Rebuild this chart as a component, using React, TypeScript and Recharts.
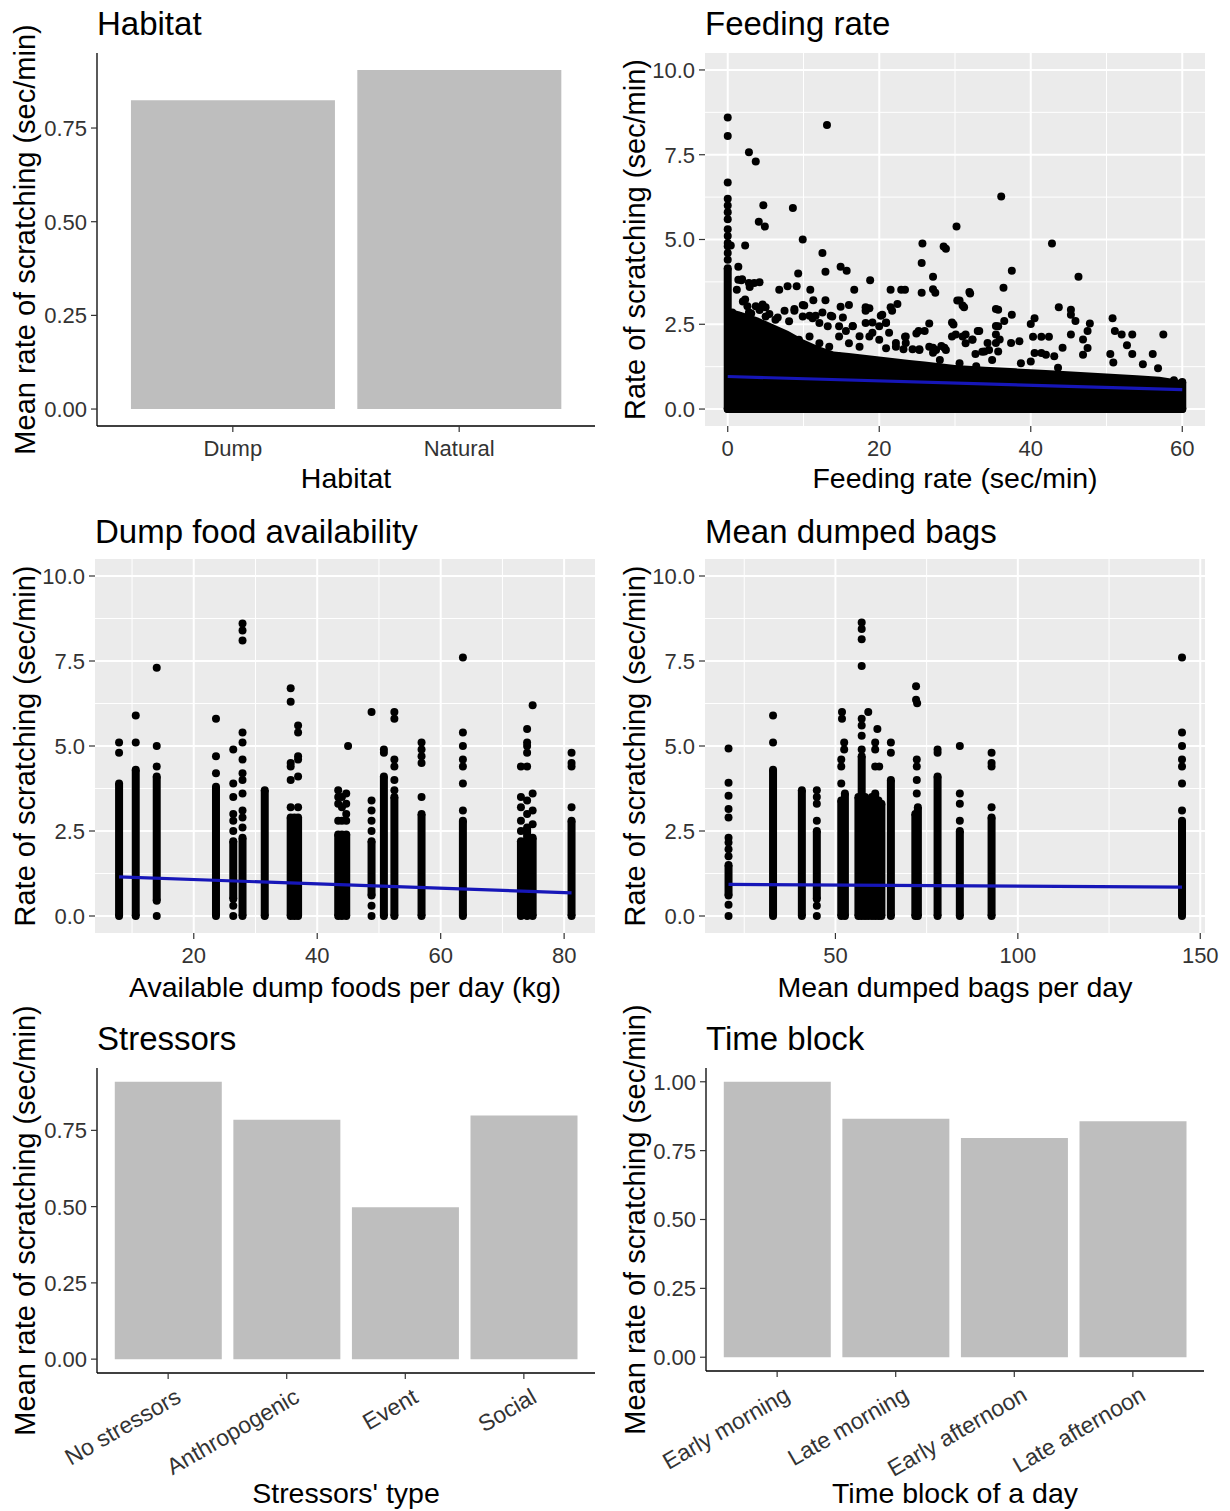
import React from 'react'
import { Area, Bar, BarChart, CartesianGrid, ComposedChart, Scatter, XAxis, YAxis } from 'recharts'

const FONT = '"Liberation Sans", Arial, Helvetica, sans-serif'

// ---- bar panels ----
const habitatCats = ['Dump', 'Natural']
const habitatMeans = [0.824, 0.905]

const stressorCats = ['No stressors', 'Anthropogenic', 'Event', 'Social']
const stressorMeans = [0.909, 0.785, 0.498, 0.799]

const timeCats = ['Early morning', 'Late morning', 'Early afternoon', 'Late afternoon']
const timeMeans = [1.0, 0.866, 0.796, 0.857]

const meanTicks = [0, 0.25, 0.5, 0.75]
const timeTicks = [0, 0.25, 0.5, 0.75, 1]

// ---- scatter panels ----
const rateTicks = [0, 2.5, 5, 7.5, 10]
const rateMinor = [1.25, 3.75, 6.25, 8.75]

const feedTicks = [0, 20, 40, 60]
const feedMinor = [10, 30, 50]
const foodTicks = [20, 40, 60, 80]
const foodMinor = [10, 30, 50, 70]
const bagTicks = [50, 100, 150]
const bagMinor = [25, 75, 125]

// upper edge of the solid mass of points, feeding rate vs scratching
const feedingEdge: [number, number][] = [
  [0, 4.15], [0.4, 2.95], [2, 2.85], [4, 2.7], [6, 2.5], [8, 2.3], [10, 2.05], [12, 1.85],
  [14, 1.7], [16, 1.65], [18, 1.6], [20, 1.55], [22, 1.5], [24, 1.45], [26, 1.4], [28, 1.35],
  [30, 1.3], [34, 1.25], [38, 1.2], [42, 1.15], [46, 1.1], [50, 1.05], [54, 1.0], [57, 0.95], [60, 0.85],
]
const feedingFloor: [number, number][] = [[0, 0], [60, 0]]
// [x, low, high] solid runs of stacked points
const feedingRuns: [number, number, number][] = [[0, 0, 4.15], [60, 0, 0.8]]
const feedingPoints: [number, number][] = [
  [0, 8.6], [0, 8.05], [13.1, 8.38], [2.8, 7.57], [3.7, 7.3], [0, 6.68], [4.7, 6.01], [4.1, 5.52],
  [4.9, 5.38], [8.6, 5.93], [9.9, 5.0], [2.3, 4.82], [0.4, 4.82], [12.5, 4.6], [12.9, 4.05],
  [14.9, 4.2], [15.7, 4.08], [9.3, 4.0], [18.8, 3.8], [25.7, 4.88], [25.6, 4.31], [27.1, 3.9],
  [28.5, 4.79], [28.8, 4.73], [27.1, 3.53], [27.4, 3.43], [25.6, 3.43], [26.6, 2.52], [25.2, 2.3],
  [26.0, 2.3], [1.4, 3.81], [1.8, 3.8], [2.8, 3.72], [3.5, 3.72], [4.2, 3.74], [1.2, 3.52],
  [6.8, 3.52], [7.9, 3.62], [9.1, 3.62], [10.9, 3.52], [16.7, 3.52], [21.5, 3.52], [22.9, 3.52],
  [23.4, 3.52], [22.4, 3.1], [21.7, 2.9], [20.4, 2.78], [18.7, 2.97], [18.2, 2.9], [16.0, 3.07],
  [14.9, 3.02], [12.9, 3.21], [11.3, 3.21], [9.9, 3.07], [8.8, 2.9], [7.5, 2.9], [2.3, 3.23],
  [5.0, 3.0], [4.2, 2.92], [23.4, 2.13], [23.2, 1.76], [27.1, 1.81], [28.2, 1.86],
  [0, 4.4], [0, 4.6], [0, 4.8], [0, 4.9], [0, 5.1], [0, 5.3], [0, 5.6], [0, 5.8], [0, 6.0], [0, 6.2],
  [3.1, 2.82], [5.0, 2.73], [6.3, 2.63], [8.1, 2.59], [9.9, 2.73], [11.2, 2.68], [12.1, 2.54],
  [13.2, 2.44], [13.8, 2.73], [14.7, 2.44], [15.6, 2.3], [16.5, 2.44], [17.4, 2.15], [18.2, 2.54],
  [19.1, 2.25], [20.0, 2.44], [20.9, 2.54], [21.3, 2.25], [22.2, 1.95], [23.5, 1.95], [24.4, 1.76],
  [25.3, 1.76], [27.1, 1.66], [28.6, 1.81],
  [1.4, 4.2], [1.9, 3.83], [2.9, 3.6], [2.0, 3.17], [2.6, 3.03], [3.7, 3.03], [4.6, 3.08],
  [0.6, 2.85], [1.5, 2.75], [2.8, 2.85], [5.5, 2.8], [6.6, 2.7], [8.8, 2.95], [10.1, 3.05],
  [10.8, 2.75], [11.6, 2.75], [12.5, 2.85], [13.6, 2.75], [15.2, 2.7], [16.5, 2.45], [18.2, 3.0],
  [19.1, 2.55], [20.2, 2.75], [20.9, 2.55], [21.5, 3.0], [29.6, 2.55], [30.3, 3.2], [31.0, 3.05],
  [31.9, 3.45], [33.0, 2.3], [35.4, 2.95], [35.4, 2.45],
  [9.4, 2.04], [10.8, 2.14], [12.1, 1.94], [13.4, 1.84], [14.7, 2.14], [16.0, 1.94], [17.4, 1.84],
  [18.7, 2.14], [20.0, 2.04], [20.9, 1.79], [22.2, 1.84], [23.5, 2.14], [24.9, 2.23], [25.3, 1.74],
  [26.6, 1.84], [27.5, 1.74], [28.8, 1.74], [29.6, 2.14], [31.0, 2.14], [31.4, 1.94], [32.3, 2.04],
  [33.6, 1.69], [34.5, 1.74], [34.9, 1.45], [32.8, 1.26], [30.6, 1.35], [28.0, 1.45], [22.6, 1.35],
  [18.2, 1.45], [14.7, 1.55], [11.6, 1.45],
  [36.1, 6.27], [30.2, 5.38], [42.8, 4.88], [37.5, 4.08], [46.3, 3.9], [36.4, 3.58], [30.6, 3.2],
  [31.2, 3.0], [32.0, 3.41], [35.7, 2.93], [35.7, 2.44], [36.5, 2.6], [37.5, 2.78], [29.8, 2.49],
  [30.1, 2.2], [31.4, 2.2], [32.3, 2.05], [33.2, 2.3], [32.7, 1.62], [33.9, 1.7], [35.4, 2.2],
  [35.9, 2.05], [37.4, 1.95], [38.5, 2.0], [40.0, 2.51], [40.5, 2.68], [40.3, 2.13], [41.4, 2.13],
  [42.4, 2.13], [43.7, 3.0], [45.3, 2.93], [45.3, 2.78], [45.9, 2.6], [45.3, 2.2], [46.9, 2.05],
  [47.8, 2.52], [47.5, 2.3], [47.5, 1.8], [46.9, 1.6], [50.8, 2.68], [51.1, 2.3], [52.0, 2.2],
  [53.4, 2.2], [52.7, 1.88], [53.4, 1.62], [57.5, 2.2], [56.1, 1.62], [50.5, 1.62], [50.9, 1.37],
  [40.5, 1.65], [41.4, 1.65], [42.0, 1.6], [38.7, 1.35], [40.0, 1.4], [54.8, 1.32], [56.8, 1.2],
  [58.9, 0.85], [43.6, 1.22], [44.2, 1.81], [43.1, 1.56], [34.3, 1.95], [35.4, 1.95], [35.7, 1.7],
]
const feedingFit: [number, number][] = [[0, 0.96], [60, 0.57]]

const foodRuns: [number, number, number][] = [
  [7.9, 0, 3.9], [10.6, 0, 4.3], [14.0, 0.45, 4.1], [23.6, 0, 3.8], [26.4, 0.5, 2.2], [27.9, 0, 2.3],
  [31.5, 0, 3.7], [35.7, 0, 2.9], [36.3, 0, 2.9], [36.9, 0, 2.9], [43.4, 0, 2.4], [44.0, 0, 2.4],
  [44.7, 0, 2.4], [48.8, 0.6, 2.2], [50.8, 0, 4.1], [52.5, 0, 3.5], [56.9, 0, 3.0], [63.6, 0, 2.8],
  [73.0, 0, 2.2], [74.0, 0, 2.6], [74.9, 0, 2.3], [81.2, 0, 2.8],
]
const foodPoints: [number, number][] = [
  [7.9, 4.8], [7.9, 5.1], [10.6, 5.1], [10.6, 5.9],
  [14.0, 0], [14.0, 4.4], [14.0, 5.0], [14.0, 7.3],
  [23.6, 4.2], [23.6, 4.7], [23.6, 5.8],
  [26.4, 0], [26.4, 0.3], [26.4, 2.5], [26.4, 2.8], [26.4, 3.0], [26.4, 3.5], [26.4, 3.9], [26.4, 4.9],
  [27.9, 2.6], [27.9, 2.9], [27.9, 3.1], [27.9, 3.6], [27.9, 4.0], [27.9, 4.2], [27.9, 4.6],
  [27.9, 5.1], [27.9, 5.4], [27.9, 8.1], [27.9, 8.4], [27.9, 8.6],
  [35.7, 3.2], [35.7, 4.0], [35.7, 4.4], [35.7, 4.5], [35.7, 6.3], [35.7, 6.7],
  [36.9, 3.2], [36.9, 4.1], [36.9, 4.6], [36.9, 4.7], [36.9, 5.4], [36.9, 5.6],
  [43.4, 2.8], [43.4, 3.3], [43.4, 3.5], [43.4, 3.7], [44.0, 2.8], [44.0, 3.2], [44.0, 3.5],
  [44.7, 2.8], [44.7, 3.0], [44.7, 3.3], [44.7, 3.6], [45.0, 5.0],
  [48.8, 0], [48.8, 0.3], [48.8, 2.5], [48.8, 2.8], [48.8, 3.1], [48.8, 3.4], [48.8, 6.0],
  [50.8, 4.8], [50.8, 4.9],
  [52.5, 3.7], [52.5, 4.0], [52.5, 4.4], [52.5, 4.6], [52.5, 5.8], [52.5, 6.0],
  [56.9, 3.5], [56.9, 4.5], [56.9, 4.7], [56.9, 4.9], [56.9, 5.1],
  [63.6, 3.1], [63.6, 3.9], [63.6, 4.4], [63.6, 4.6], [63.6, 5.0], [63.6, 5.4], [63.6, 7.6],
  [73.0, 2.5], [73.0, 2.8], [73.0, 3.2], [73.0, 3.5], [73.0, 4.4],
  [74.0, 3.0], [74.0, 3.4], [74.0, 4.4], [74.0, 4.8], [74.0, 5.0], [74.0, 5.1], [74.0, 5.5],
  [74.9, 2.7], [74.9, 3.1], [74.9, 3.6], [74.9, 6.2],
  [81.2, 3.2], [81.2, 4.4], [81.2, 4.5], [81.2, 4.8],
]
const foodFit: [number, number][] = [[7.9, 1.15], [81.2, 0.68]]

const bagRuns: [number, number, number][] = [
  [20.7, 0.6, 1.5], [32.9, 0, 4.3], [40.8, 0, 3.7], [44.9, 0.5, 2.5], [51.6, 0, 3.4], [52.6, 0, 3.6],
  [56.3, 0, 3.5], [57.2, 0, 4.7], [58.1, 0, 3.5], [59.0, 0, 3.4], [60.0, 0, 3.5], [60.9, 0, 3.6],
  [61.8, 0, 3.4], [62.6, 0, 3.3], [65.2, 0, 4.0], [71.9, 0, 3.0], [72.6, 0, 3.2], [78.0, 0, 4.1],
  [84.1, 0, 2.5], [92.8, 0, 2.9], [145.0, 0, 2.8],
]
const bagPoints: [number, number][] = [
  [20.7, 0], [20.7, 0.33], [20.7, 1.76], [20.7, 1.96], [20.7, 2.16], [20.7, 2.3], [20.7, 2.9],
  [20.7, 3.15], [20.7, 3.54], [20.7, 3.92], [20.7, 4.93],
  [32.9, 5.1], [32.9, 5.9],
  [44.9, 0], [44.9, 0.3], [44.9, 2.8], [44.9, 3.3], [44.9, 3.5], [44.9, 3.7],
  [51.6, 3.9], [51.6, 4.4], [51.6, 4.6], [52.4, 4.9], [52.4, 5.1], [51.8, 5.8], [51.8, 6.0],
  [57.2, 4.9], [57.2, 5.3], [57.2, 5.6], [57.2, 5.8], [57.2, 7.35], [57.2, 8.14], [57.2, 8.44], [57.2, 8.63],
  [59.0, 6.0], [60.9, 4.4], [60.9, 4.9], [60.9, 5.1], [61.5, 5.5], [62.0, 4.4],
  [65.2, 4.8], [65.2, 5.1],
  [72.3, 3.6], [72.3, 4.0], [72.3, 4.4], [72.3, 4.6], [72.4, 6.26], [72.1, 6.36], [72.1, 6.76],
  [78.0, 4.8], [78.0, 4.9],
  [84.1, 2.8], [84.1, 3.3], [84.1, 3.6], [84.1, 5.0],
  [92.8, 3.2], [92.8, 4.4], [92.8, 4.5], [92.8, 4.8],
  [145.0, 3.1], [145.0, 3.9], [145.0, 4.4], [145.0, 4.6], [145.0, 5.0], [145.0, 5.4], [145.0, 7.6],
]
const bagFit: [number, number][] = [[20.7, 0.93], [145.0, 0.85]]

// ---- helpers ----
type Box = { l: number; t: number; r: number; b: number }

const YW = 100
const MT = 10
const MR = 30
const DOT_R = 4

const toXY = (pts: [number, number][]) => pts.map(([x, y]) => ({ x, y }))

const tickText = { fontFamily: FONT, fontSize: 22, fill: '#333333' }

const yTick = (digits: number) => (props: any) => (
  <text x={props.x} y={props.y} dy="0.36em" textAnchor="end" {...tickText}>
    {Number(props.payload.value).toFixed(digits)}
  </text>
)

const XTick = (props: any) => (
  <text x={props.x} y={props.y} dy="0.72em" textAnchor="middle" {...tickText}>
    {props.payload.value}
  </text>
)

const SlantTick = (props: any) => (
  <text
    transform={`translate(${props.x + 6},${props.y}) rotate(-30)`}
    dy="0.72em"
    textAnchor="end"
    {...tickText}
    fontSize={23}
  >
    {props.payload.value}
  </text>
)

const Dot = (p: any) => <circle cx={p.cx} cy={p.cy} r={DOT_R} fill="#000" />
const NoDot = () => <g />

interface BarPanelProps {
  box: Box
  cats: string[]
  values: number[]
  ticks: number[]
  slant?: boolean
}

const BarPanel = ({ box, cats, values, ticks, slant }: BarPanelProps) => {
  const xh = slant ? 120 : 40
  const n = cats.length
  const unit = (box.r - box.l) / (n + 0.2)
  const top = Math.max(...values)
  const data = cats.map((c, i) => ({ cat: c, mean: values[i] }))
  return (
    <div style={{ position: 'absolute', left: box.l - YW, top: box.t - MT }}>
      <BarChart
        width={box.r - box.l + YW + MR}
        height={box.b - box.t + MT + xh}
        data={data}
        margin={{ top: MT, right: MR, bottom: 0, left: 0 }}
        barCategoryGap="5%"
      >
        <XAxis
          dataKey="cat"
          type="category"
          padding={{ left: unit * 0.1, right: unit * 0.1 }}
          height={xh}
          interval={0}
          axisLine={{ stroke: '#000', strokeWidth: 1.3 }}
          tickLine={{ stroke: '#333', strokeWidth: 1.2 }}
          tickSize={6}
          tickMargin={8}
          tick={slant ? SlantTick : XTick}
        />
        <YAxis
          type="number"
          domain={[-0.05 * top, 1.05 * top]}
          ticks={ticks}
          interval={0}
          allowDataOverflow
          width={YW}
          axisLine={{ stroke: '#000', strokeWidth: 1.3 }}
          tickLine={{ stroke: '#333', strokeWidth: 1.2 }}
          tickSize={6}
          tickMargin={4}
          tick={yTick(2)}
        />
        <Bar dataKey="mean" fill="#BEBEBE" isAnimationActive={false} />
      </BarChart>
    </div>
  )
}

interface ScatterPanelProps {
  box: Box
  xDomain: [number, number]
  xTicks: number[]
  xMinor: number[]
  runs: [number, number, number][]
  points: [number, number][]
  fit: [number, number][]
  edge?: [number, number][]
  floor?: [number, number][]
}

const ScatterPanel = ({ box, xDomain, xTicks, xMinor, runs, points, fit, edge, floor }: ScatterPanelProps) => {
  const xh = 40
  const run = { stroke: '#000', strokeWidth: DOT_R * 2 }
  return (
    <div style={{ position: 'absolute', left: box.l - YW, top: box.t - MT }}>
      <ComposedChart
        width={box.r - box.l + YW + MR}
        height={box.b - box.t + MT + xh}
        margin={{ top: MT, right: MR, bottom: 0, left: 0 }}
      >
        <CartesianGrid
          fill="#EBEBEB"
          stroke="#FFFFFF"
          strokeWidth={1}
          horizontalValues={rateMinor}
          verticalValues={xMinor}
        />
        <CartesianGrid stroke="#FFFFFF" strokeWidth={2} horizontalValues={rateTicks} verticalValues={xTicks} />
        <XAxis
          type="number"
          dataKey="x"
          domain={xDomain}
          ticks={xTicks}
          interval={0}
          allowDataOverflow
          height={xh}
          axisLine={false}
          tickLine={{ stroke: '#333', strokeWidth: 1.2 }}
          tickSize={6}
          tickMargin={8}
          tick={XTick}
        />
        <YAxis
          type="number"
          dataKey="y"
          domain={[-0.5, 10.5]}
          ticks={rateTicks}
          interval={0}
          allowDataOverflow
          width={YW}
          axisLine={false}
          tickLine={{ stroke: '#333', strokeWidth: 1.2 }}
          tickSize={6}
          tickMargin={4}
          tick={yTick(1)}
        />
        {edge && (
          <Area
            data={toXY(edge)}
            dataKey="y"
            type="linear"
            fill="#000"
            fillOpacity={1}
            stroke="none"
            isAnimationActive={false}
          />
        )}
        {floor && <Scatter data={toXY(floor)} dataKey="y" line={run} shape={Dot} isAnimationActive={false} />}
        {runs.map(([x, lo, hi], i) => (
          <Scatter
            key={i}
            data={[{ x, y: lo }, { x, y: hi }]}
            dataKey="y"
            line={run}
            shape={Dot}
            isAnimationActive={false}
          />
        ))}
        <Scatter data={toXY(points)} dataKey="y" shape={Dot} isAnimationActive={false} />
        <Scatter
          data={toXY(fit)}
          dataKey="y"
          line={{ stroke: '#1616b8', strokeWidth: 3.2 }}
          shape={NoDot}
          isAnimationActive={false}
        />
      </ComposedChart>
    </div>
  )
}

// ---- page ----
const boxes: Box[] = [
  { l: 97, t: 53, r: 595, b: 426 },
  { l: 705, t: 53, r: 1205, b: 426 },
  { l: 95, t: 559, r: 595, b: 933 },
  { l: 705, t: 559, r: 1205, b: 933 },
  { l: 97, t: 1068, r: 595, b: 1373 },
  { l: 706, t: 1068, r: 1204, b: 1371 },
]

const titles = ['Habitat', 'Feeding rate', 'Dump food availability', 'Mean dumped bags', 'Stressors', 'Time block']
const xTitles = [
  'Habitat',
  'Feeding rate (sec/min)',
  'Available dump foods per day (kg)',
  'Mean dumped bags per day',
  "Stressors' type",
  'Time block of a day',
]
const yTitles = [
  'Mean rate of scratching (sec/min)',
  'Rate of scratching (sec/min)',
  'Rate of scratching (sec/min)',
  'Rate of scratching (sec/min)',
  'Mean rate of scratching (sec/min)',
  'Mean rate of scratching (sec/min)',
]
const titleBase = [35, 35, 543, 543, 1050, 1050]
const xTitleBase = [488, 488, 997, 997, 1503, 1503]

export default function App() {
  return (
    <div
      style={{
        position: 'absolute',
        left: 0,
        top: 0,
        width: 1230,
        height: 1511,
        background: '#fff',
        overflow: 'hidden',
        fontFamily: FONT,
      }}
    >
      <BarPanel box={boxes[0]} cats={habitatCats} values={habitatMeans} ticks={meanTicks} />
      <ScatterPanel
        box={boxes[1]}
        xDomain={[-3, 63]}
        xTicks={feedTicks}
        xMinor={feedMinor}
        runs={feedingRuns}
        points={feedingPoints}
        fit={feedingFit}
        edge={feedingEdge}
        floor={feedingFloor}
      />
      <ScatterPanel
        box={boxes[2]}
        xDomain={[4, 85]}
        xTicks={foodTicks}
        xMinor={foodMinor}
        runs={foodRuns}
        points={foodPoints}
        fit={foodFit}
      />
      <ScatterPanel
        box={boxes[3]}
        xDomain={[14.25, 151.3]}
        xTicks={bagTicks}
        xMinor={bagMinor}
        runs={bagRuns}
        points={bagPoints}
        fit={bagFit}
      />
      <BarPanel box={boxes[4]} cats={stressorCats} values={stressorMeans} ticks={meanTicks} slant />
      <BarPanel box={boxes[5]} cats={timeCats} values={timeMeans} ticks={timeTicks} slant />

      <svg
        width={1230}
        height={1511}
        style={{ position: 'absolute', left: 0, top: 0, pointerEvents: 'none' }}
      >
        {boxes.map((b, i) => {
          const cy = (b.t + b.b) / 2
          const cx = i % 2 === 0 ? 25 : 635
          return (
            <g key={i} fontFamily={FONT} fill="#000">
              <text x={b.l} y={titleBase[i]} fontSize={33}>
                {titles[i]}
              </text>
              <text x={(b.l + b.r) / 2} y={xTitleBase[i]} fontSize={28.5} textAnchor="middle">
                {xTitles[i]}
              </text>
              <text
                x={cx + 10}
                y={cy}
                fontSize={29}
                textAnchor="middle"
                transform={`rotate(-90 ${cx + 10} ${cy})`}
              >
                {yTitles[i]}
              </text>
            </g>
          )
        })}
      </svg>
    </div>
  )
}
